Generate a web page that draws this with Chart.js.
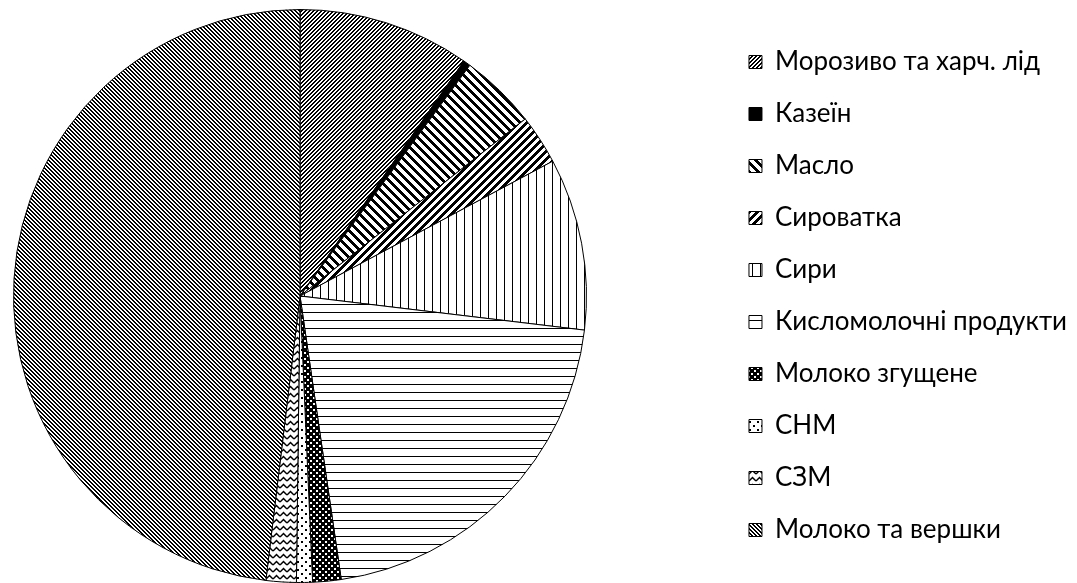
<!DOCTYPE html>
<html lang="uk">
<head>
<meta charset="UTF-8">
<title>Структура</title>
<script src="https://cdn.jsdelivr.net/npm/chart.js"></script>
<style>
    body { margin: 0; padding: 0; background: #fff; overflow: hidden; }
    .chart-box { position: relative; width: 1077px; height: 583px; }
</style>
</head>
<body>
<div class="chart-box">
    <canvas id="pieChart"></canvas>
</div>
<script>
// data (share, %)
const categories = [
    'Морозиво та харч. лід',
    'Казеїн',
    'Масло',
    'Сироватка',
    'Сири',
    'Кисломолочні продукти',
    'Молоко згущене',
    'СНМ',
    'СЗМ',
    'Молоко та вершки'
];
const shares = [9.7, 0.4, 4.3, 2.8, 9.7, 20.8, 1.6, 0.9, 1.7, 48.1];

// small tile patterns for the black & white fills
function tile(w, h, bg, draw) {
    const c = document.createElement('canvas');
    c.width = w; c.height = h;
    const g = c.getContext('2d');
    g.fillStyle = bg;
    g.fillRect(0, 0, w, h);
    g.fillStyle = '#000';
    g.strokeStyle = '#000';
    draw(g, w, h);
    return g.createPattern(c, 'repeat');
}

// crisp pixel diagonals: period p, thickness t, up = "/" else "\"
function diag(p, t, up) {
    return tile(p, p, '#fff', function (g) {
        for (let y = 0; y < p; y++) {
            for (let k = 0; k < t; k++) {
                const x = up ? (p - 1 - y + k) % p : (y + k) % p;
                g.fillRect(x, y, 1, 1);
            }
        }
    });
}

const fills = [
    diag(4, 2, true),                                   // морозиво
    '#000',                                             // казеїн
    diag(9, 4, false),                                  // масло
    diag(8, 4, true),                                   // сироватка
    tile(8, 8, '#fff', g => g.fillRect(0, 0, 1, 8)),    // сири
    tile(8, 8, '#fff', g => g.fillRect(0, 0, 8, 1)),    // кисломолочні
    tile(6, 6, '#000', g => {                           // молоко згущене
        g.fillStyle = '#fff';
        g.fillRect(1, 1, 2, 2);
        g.fillRect(4, 4, 2, 2);
    }),
    tile(8, 8, '#fff', g => {                           // СНМ
        g.fillRect(1, 1, 2, 2);
        g.fillRect(5, 5, 2, 2);
    }),
    tile(7, 7, '#fff', g => {                           // СЗМ
        g.lineWidth = 1.5;
        g.beginPath();
        g.moveTo(0, 5); g.lineTo(3.5, 1.5); g.lineTo(7, 5);
        g.stroke();
    }),
    diag(4, 2, false)                                   // молоко та вершки
];

// pie sits left of the free space, centred at x = 300
const pieLeft = {
    id: 'pieLeft',
    afterLayout(chart) {
        const a = chart.chartArea;
        a.left = 600 - a.right;
        a.width = a.right - a.left;
    }
};

new Chart(document.getElementById('pieChart'), {
    type: 'pie',
    data: {
        labels: categories,
        datasets: [{
            data: shares,
            backgroundColor: fills,
            borderColor: '#000',
            borderWidth: 1
        }]
    },
    options: {
        responsive: true,
        maintainAspectRatio: false,
        animation: false,
        layout: { padding: { top: 9, bottom: 0 } },
        plugins: {
            tooltip: { enabled: false },
            legend: {
                position: 'right',
                labels: {
                    boxWidth: 13,
                    boxHeight: 13,
                    padding: 26,
                    color: '#000',
                    font: { family: 'Lato, "Open Sans", sans-serif', size: 26 }
                }
            }
        }
    },
    plugins: [pieLeft]
});
</script>
</body>
</html>
